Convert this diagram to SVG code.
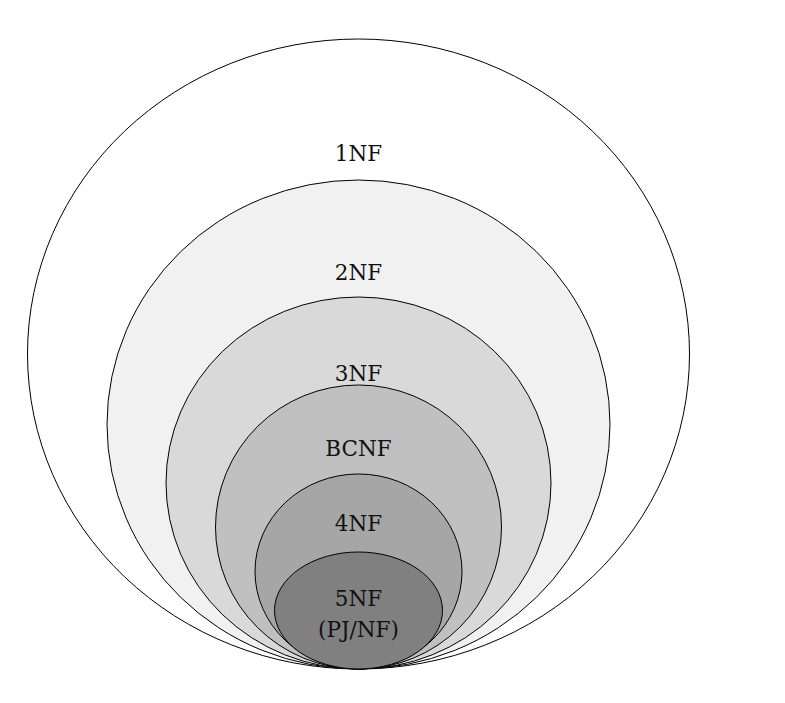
<svg xmlns="http://www.w3.org/2000/svg" width="785" height="703" viewBox="0 0 785 703">
<style>
.e{stroke:#000;stroke-width:1}
.t{font-family:"DejaVu Serif","Liberation Serif",serif;font-size:21.5px;fill:#111;text-anchor:middle}
</style>
<rect width="785" height="703" fill="#fff"/>
<g id="n1"><ellipse class="e" cx="358.5" cy="354" rx="331" ry="315" fill="#ffffff"/><text class="t" x="358.5" y="161">1NF</text></g>
<g id="n2"><ellipse class="e" cx="358.5" cy="424.5" rx="251.5" ry="244.5" fill="#f1f1f1"/><text class="t" x="358.5" y="280">2NF</text></g>
<g id="n3"><ellipse class="e" cx="358.5" cy="483" rx="192.5" ry="186" fill="#d9d9d9"/><text class="t" x="358.5" y="381">3NF</text></g>
<g id="nb"><ellipse class="e" cx="358.5" cy="527" rx="143" ry="142" fill="#c0c0c0"/><text class="t" x="358.5" y="456">BCNF</text></g>
<g id="n4"><ellipse class="e" cx="358.5" cy="571.5" rx="103.5" ry="97.5" fill="#a6a6a6"/><text class="t" x="358.5" y="531">4NF</text></g>
<g id="n5"><ellipse class="e" cx="358.5" cy="610.5" rx="84" ry="58.5" fill="#808080"/><text class="t" x="358.5" y="606">5NF</text><text class="t" x="358.5" y="637">(PJ/NF)</text></g>
<g id="connectors"/>
</svg>
